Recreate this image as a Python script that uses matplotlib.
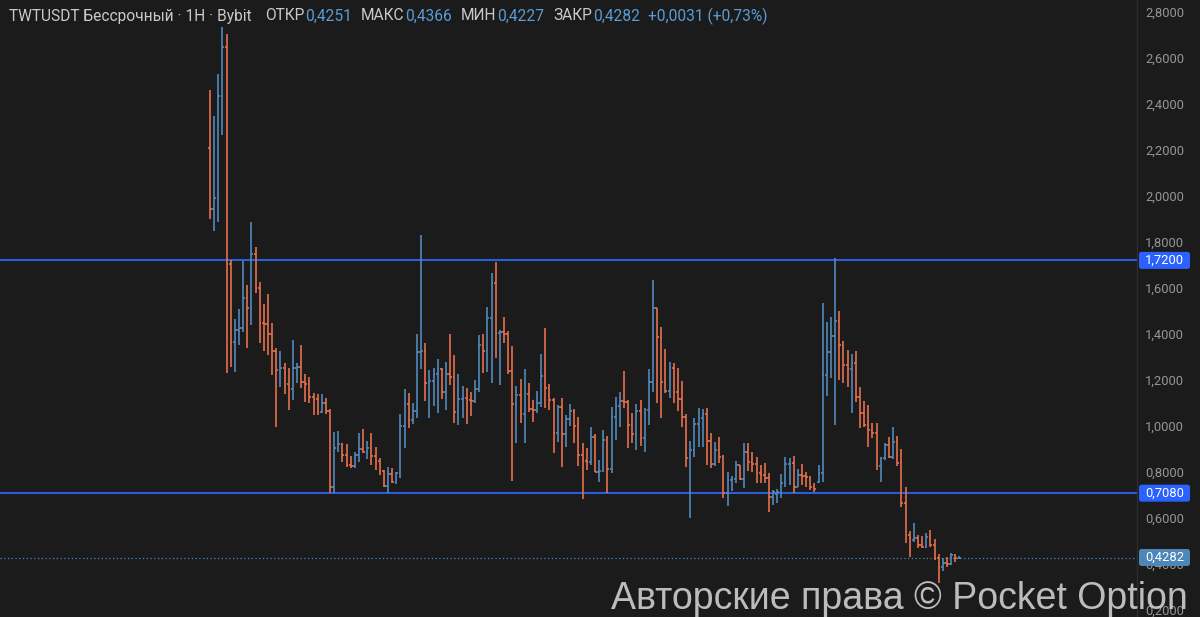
import numpy as np
import matplotlib
matplotlib.use("Agg")
import matplotlib.pyplot as plt
import matplotlib.transforms as mtransforms
from matplotlib.patches import FancyBboxPatch

plt.rcParams['font.family'] = ['Roboto', 'DejaVu Sans']

# ---------------- data (TWTUSDT, 1H bars) ----------------
opens = [2.207, 1.942, 1.990, 2.433, 2.646, 1.703, 1.367, 1.417, 1.425, 1.555,
         1.512, 1.746, 1.601, 1.449, 1.442, 1.399, 1.326, 1.244, 1.251, 1.181,
         1.159, 1.251, 1.258, 1.190, 1.181, 1.128, 1.117, 1.062, 1.099, 1.065,
         0.733, 0.903, 0.922, 0.874, 0.830, 0.828, 0.874, 0.900, 0.888, 0.903,
         0.871, 0.849, 0.804, 0.739, 0.790, 0.758, 0.794, 1.000, 1.094, 1.026,
         1.067, 1.320, 1.328, 1.186, 1.196, 1.225, 1.246, 1.149, 1.225, 1.215,
         1.062, 1.116, 1.120, 1.115, 1.108, 1.159, 1.352, 1.328, 1.468, 1.620,
         1.403, 1.407, 1.400, 1.241, 1.094, 1.135, 1.051, 1.138, 1.074, 1.070,
         1.099, 1.217, 1.167, 1.113, 0.968, 1.084, 0.965, 1.029, 1.065, 0.999,
         0.874, 0.849, 0.842, 0.954, 0.801, 0.806, 0.939, 0.812, 1.038, 1.087,
         1.110, 1.106, 1.004, 0.964, 1.065, 0.949, 1.070, 1.190, 1.512, 1.388,
         1.193, 1.154, 1.251, 1.146, 1.117, 1.041, 0.862, 0.896, 1.007, 1.036,
         1.050, 0.936, 0.835, 0.896, 0.867, 0.707, 0.765, 0.768, 0.830, 0.768,
         0.888, 0.845, 0.833, 0.797, 0.787, 0.775, 0.693, 0.705, 0.715, 0.751,
         0.833, 0.838, 0.736, 0.787, 0.784, 0.780, 0.733, 0.755, 0.797, 1.222,
         1.323, 1.391, 1.457, 1.352, 1.265, 1.246, 1.272, 1.128, 1.055, 1.004,
         0.983, 0.968, 0.826, 0.859, 0.917, 0.867, 0.932, 0.841, 0.667, 0.526,
         0.505, 0.513, 0.482, 0.475, 0.519, 0.482, 0.425, 0.388, 0.403, 0.399,
         0.439, 0.4251]
highs = [2.461, 2.348, 2.530, 2.733, 2.704, 1.722, 1.465, 1.509, 1.717, 1.613,
         1.888, 1.780, 1.627, 1.530, 1.574, 1.449, 1.338, 1.326, 1.275, 1.251,
         1.374, 1.275, 1.352, 1.226, 1.215, 1.142, 1.139, 1.139, 1.120, 1.072,
         0.975, 0.980, 0.925, 0.922, 0.870, 0.888, 0.968, 0.987, 0.935, 0.968,
         0.910, 0.862, 0.809, 0.823, 0.816, 0.798, 1.051, 1.161, 1.142, 1.099,
         1.399, 1.830, 1.359, 1.244, 1.251, 1.290, 1.251, 1.280, 1.400, 1.309,
         1.225, 1.174, 1.164, 1.149, 1.200, 1.396, 1.399, 1.519, 1.664, 1.715,
         1.417, 1.475, 1.413, 1.349, 1.174, 1.203, 1.246, 1.186, 1.113, 1.152,
         1.313, 1.425, 1.181, 1.123, 1.091, 1.120, 1.048, 1.096, 1.074, 1.038,
         0.925, 0.903, 0.997, 0.965, 0.852, 0.983, 0.958, 1.084, 1.125, 1.146,
         1.239, 1.113, 1.055, 1.094, 1.113, 1.080, 1.246, 1.635, 1.512, 1.429,
         1.335, 1.277, 1.272, 1.251, 1.196, 1.051, 0.936, 1.033, 1.077, 1.074,
         1.077, 0.968, 0.929, 0.951, 0.874, 0.801, 0.783, 0.849, 0.830, 0.928,
         0.925, 0.888, 0.864, 0.830, 0.841, 0.797, 0.722, 0.725, 0.791, 0.867,
         0.859, 0.870, 0.813, 0.833, 0.801, 0.783, 0.751, 0.830, 1.533, 1.454,
         1.475, 1.729, 1.500, 1.371, 1.331, 1.313, 1.326, 1.171, 1.109, 1.091,
         1.012, 1.015, 0.867, 0.928, 0.951, 0.997, 0.957, 0.899, 0.736, 0.543,
         0.577, 0.526, 0.522, 0.533, 0.548, 0.507, 0.444, 0.425, 0.432, 0.449,
         0.442, 0.4366]
lows = [1.900, 1.849, 1.888, 2.265, 1.232, 1.258, 1.236, 1.352, 1.410, 1.338,
        1.439, 1.577, 1.359, 1.326, 1.309, 1.222, 0.997, 1.171, 1.139, 1.070,
        1.113, 1.186, 1.164, 1.106, 1.099, 1.048, 1.048, 1.055, 1.050, 0.707,
        0.707, 0.888, 0.842, 0.823, 0.816, 0.816, 0.845, 0.881, 0.857, 0.830,
        0.809, 0.787, 0.736, 0.710, 0.751, 0.746, 0.772, 0.903, 0.993, 1.007,
        1.036, 1.248, 1.110, 1.033, 1.088, 1.055, 1.117, 1.070, 1.178, 1.012,
        1.004, 1.033, 1.007, 1.044, 1.099, 1.149, 1.229, 1.236, 1.186, 1.294,
        1.178, 1.359, 1.225, 0.762, 0.925, 1.012, 0.925, 1.062, 1.019, 1.055,
        1.084, 1.080, 1.070, 0.881, 0.932, 0.820, 0.910, 1.001, 0.925, 0.828,
        0.683, 0.809, 0.830, 0.799, 0.758, 0.801, 0.710, 0.797, 0.939, 0.997,
        1.080, 0.906, 0.925, 0.896, 0.914, 0.885, 1.004, 1.149, 1.101, 1.033,
        1.142, 1.120, 1.099, 1.065, 0.997, 0.823, 0.601, 0.864, 0.910, 0.910,
        0.830, 0.816, 0.828, 0.838, 0.685, 0.652, 0.719, 0.751, 0.765, 0.729,
        0.806, 0.801, 0.751, 0.751, 0.751, 0.628, 0.656, 0.664, 0.685, 0.736,
        0.743, 0.707, 0.736, 0.743, 0.736, 0.722, 0.714, 0.751, 0.758, 1.132,
        1.210, 1.004, 1.200, 1.185, 1.171, 1.058, 1.106, 0.990, 0.997, 0.910,
        0.946, 0.809, 0.755, 0.852, 0.859, 0.855, 0.826, 0.649, 0.490, 0.432,
        0.497, 0.468, 0.468, 0.471, 0.475, 0.417, 0.316, 0.370, 0.388, 0.396,
        0.410, 0.4227]
closes = [1.942, 1.990, 2.433, 2.646, 1.703, 1.367, 1.417, 1.425, 1.555, 1.512,
          1.746, 1.601, 1.449, 1.442, 1.399, 1.326, 1.244, 1.251, 1.181, 1.159,
          1.251, 1.258, 1.190, 1.181, 1.128, 1.117, 1.062, 1.099, 1.065, 0.733,
          0.903, 0.922, 0.874, 0.830, 0.828, 0.874, 0.900, 0.888, 0.903, 0.871,
          0.849, 0.804, 0.739, 0.790, 0.758, 0.794, 1.000, 1.094, 1.026, 1.067,
          1.320, 1.328, 1.186, 1.196, 1.225, 1.246, 1.149, 1.225, 1.215, 1.062,
          1.116, 1.120, 1.115, 1.108, 1.159, 1.352, 1.328, 1.468, 1.620, 1.403,
          1.407, 1.400, 1.241, 1.094, 1.135, 1.051, 1.138, 1.074, 1.070, 1.099,
          1.217, 1.167, 1.113, 0.968, 1.084, 0.965, 1.029, 1.065, 0.999, 0.874,
          0.849, 0.842, 0.954, 0.801, 0.806, 0.939, 0.812, 1.038, 1.087, 1.110,
          1.106, 1.004, 0.964, 1.065, 0.949, 1.070, 1.190, 1.512, 1.388, 1.193,
          1.154, 1.251, 1.146, 1.117, 1.041, 0.862, 0.896, 1.007, 1.036, 1.050,
          0.936, 0.835, 0.896, 0.867, 0.707, 0.765, 0.768, 0.830, 0.768, 0.888,
          0.845, 0.833, 0.797, 0.787, 0.775, 0.693, 0.712, 0.715, 0.751, 0.833,
          0.838, 0.736, 0.787, 0.784, 0.780, 0.733, 0.725, 0.797, 1.222, 1.323,
          1.391, 1.457, 1.352, 1.265, 1.246, 1.272, 1.128, 1.055, 1.004, 0.983,
          0.968, 0.826, 0.859, 0.917, 0.867, 0.932, 0.841, 0.667, 0.526, 0.512,
          0.513, 0.482, 0.475, 0.519, 0.482, 0.425, 0.388, 0.403, 0.399, 0.439,
          0.425, 0.4282]

level_prices = [1.7200, 0.7080]
last_price = 0.4282
price_ticks = [0.2, 0.4, 0.6, 0.8, 1.0, 1.2, 1.4, 1.6, 1.8, 2.0, 2.2, 2.4, 2.6, 2.8]

header_title = "TWTUSDT Бессрочный · 1H · Bybit"
header_labels = ["ОТКР", "МАКС", "МИН", "ЗАКР"]
header_values = ["0,4251", "0,4366", "0,4227", "0,4282"]
header_change = "+0,0031 (+0,73%)"
watermark = "Авторские права © Pocket Option"

# ---------------- style ----------------
BG = "#1b1b1b"
UP = "#5289bd"
DN = "#e5704e"
LEVEL = "#2c5fe6"
LEVEL_BOX = "#2962ff"
LAST = "#4f86b9"
TXT = "#959595"
HDR = "#c9c9c9"
HDR_VAL = "#5b9bd5"

W, H = 1200, 617
fig = plt.figure(figsize=(W / 100, H / 100), dpi=100, facecolor=BG)
plot_right = 1137
ax = fig.add_axes([0, 0, plot_right / W, 1])
ax.set_facecolor(BG)
for s in ax.spines.values():
    s.set_visible(False)

n = len(closes)
x = np.arange(n)
o = np.array(opens); h = np.array(highs); l = np.array(lows); c = np.array(closes)
cols = np.where(c >= o, UP, DN)

ax.set_xlim(-50.72, 223.9)
ax.set_ylim(0.1696, 2.852)
ax.set_xticks([])
ax.yaxis.tick_right()
ax.set_yticks(price_ticks)
ax.set_yticklabels([f"{v:.4f}".replace(".", ",") for v in price_ticks])
ax.tick_params(axis="y", length=0, pad=6, labelsize=9.4, labelcolor=TXT)

# level lines
for p in level_prices:
    ax.axhline(p, color=LEVEL, lw=1.4, zorder=1)
ax.axhline(last_price, color=LAST, lw=0.9, ls=(0, (1, 2)), zorder=1)

# OHLC bars
lw = 1.2
ax.vlines(x, l, h, colors=cols, lw=lw, zorder=3)
ax.hlines(o, x - 0.42, x, colors=cols, lw=lw, zorder=3)
ax.hlines(c, x, x + 0.42, colors=cols, lw=lw, zorder=3)

# separator of price scale
fig.add_artist(plt.Line2D([plot_right / W, plot_right / W], [0, 1],
                          transform=fig.transFigure, color="#2d2d2d", lw=1))

fig.canvas.draw()
renderer = fig.canvas.get_renderer()
ident = mtransforms.IdentityTransform()

# price labels on the scale
def price_box(p, face, label):
    yp = ax.transData.transform((0, p))[1]
    box = FancyBboxPatch((1139, yp - 8.5), 51, 17,
                         boxstyle="round,pad=0,rounding_size=2.5",
                         transform=ident, facecolor=face, edgecolor="none", zorder=5)
    fig.add_artist(box)
    fig.text(1164.5 / W, yp / H, label, ha="center", va="center",
             color="white", fontsize=9.4, zorder=6)

for p in level_prices:
    price_box(p, LEVEL_BOX, f"{p:.4f}".replace(".", ","))
price_box(last_price, LAST, f"{last_price:.4f}".replace(".", ","))

# header (laid out left to right)
hy = 1 - 16 / H
hfs = 11.2
def put(xpix, txt, color):
    t = fig.text(xpix / W, hy, txt, ha="left", va="center", fontsize=hfs, color=color)
    return t.get_window_extent(renderer).x1

xe = put(9, header_title, HDR)
xe += 13
for lab, val in zip(header_labels, header_values):
    xe = put(xe, lab, HDR)
    xe = put(xe + 1, val, HDR_VAL)
    xe += 9
put(xe - 1, header_change, HDR_VAL)

# watermark
fig.text(1188 / W, 8 / H, watermark, ha="right", va="baseline", fontsize=27,
         color="#cfcfcf", alpha=0.9, family=["Liberation Sans", "DejaVu Sans"], zorder=10)

fig.savefig("out.png", dpi=100, facecolor=BG)
